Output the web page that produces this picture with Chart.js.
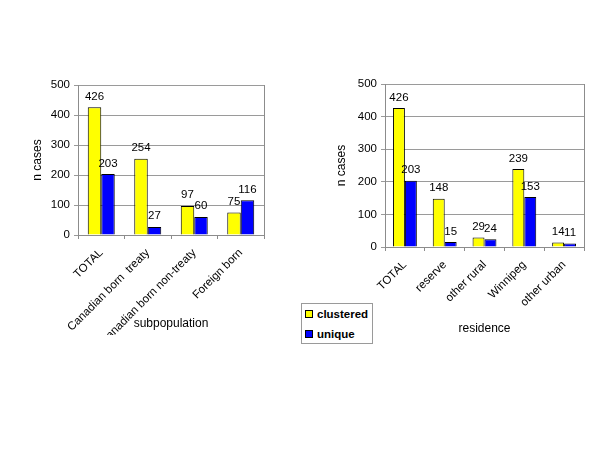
<!DOCTYPE html>
<html>
<head>
<meta charset="utf-8">
<script src="https://cdn.jsdelivr.net/npm/chart.js@4/dist/chart.umd.min.js"></script>
<style>
  body { margin: 0; width: 600px; height: 450px; background: #fff; position: relative; overflow: hidden;
         font-family: "Liberation Sans", Arial, sans-serif; }
  canvas { position: absolute; top: 0; }
  #left { left: 0; }
  #right { left: 290px; }
  .legend { position: absolute; left: 301px; top: 303px; width: 70px; height: 39px;
            border: 1px solid #9a9a9a; background: #fff; font-size: 11.5px; font-weight: bold; }
  .legend .item { position: absolute; left: 3px; height: 14px; line-height: 14px; white-space: nowrap; }
  .legend .sw { display: inline-block; width: 6px; height: 6px; border: 1px solid #000;
                margin-right: 4px; vertical-align: 0px; }
</style>
</head>
<body>
<canvas id="left" width="290" height="450"></canvas>
<canvas id="right" width="310" height="450"></canvas>
<div class="legend">
  <div class="item" style="top:3px"><span class="sw" style="background:#ffff00"></span>clustered</div>
  <div class="item" style="top:23px"><span class="sw" style="background:#0000ff"></span>unique</div>
</div>
<script>
const subpopLabels = ['TOTAL', 'Canadian born  treaty', 'Canadian born non-treaty', 'Foreign born']
const subpopClustered = [426, 254, 97, 75]
const subpopUnique = [203, 27, 60, 116]

const residenceLabels = ['TOTAL', 'reserve', 'other rural', 'Winnipeg', 'other urban']
const residenceClustered = [426, 148, 29, 239, 14]
const residenceUnique = [203, 15, 24, 153, 11]

const seriesNames = ['clustered', 'unique']
const yMax = 500
const yStep = 100

Chart.defaults.font.family = '"Liberation Sans", Arial, sans-serif'
Chart.defaults.font.size = 11.5
Chart.defaults.color = '#000'

// numbers above the bars
const valueLabels = {
    id: 'valueLabels',
    afterDatasetsDraw(chart) {
        const ctx = chart.ctx
        ctx.save()
        ctx.font = '11.5px "Liberation Sans", Arial, sans-serif'
        ctx.fillStyle = '#000'
        ctx.textAlign = 'center'
        ctx.textBaseline = 'bottom'
        chart.data.datasets.forEach((ds, i) => {
            chart.getDatasetMeta(i).data.forEach((bar, j) => {
                ctx.fillText(ds.data[j], bar.x, bar.y - 5)
            })
        })
        ctx.restore()
    }
}

// grey frame line on the right of the plot
const rightBorder = {
    id: 'rightBorder',
    beforeDatasetsDraw(chart) {
        const a = chart.chartArea
        const ctx = chart.ctx
        ctx.save()
        ctx.strokeStyle = '#8c8c8c'
        ctx.lineWidth = 1
        ctx.beginPath()
        ctx.moveTo(Math.round(a.right) + 0.5, a.top)
        ctx.lineTo(Math.round(a.right) + 0.5, a.bottom)
        ctx.stroke()
        ctx.restore()
    }
}

function drawChart(id, labels, clustered, unique, xTitle, pad, yWidth, xHeight, catPct) {
    return new Chart(document.getElementById(id), {
        type: 'bar',
        data: {
            labels: labels,
            datasets: [
                { label: seriesNames[0], data: clustered, backgroundColor: '#ffff00',
                  borderColor: '#000', borderWidth: 1, barPercentage: 1, categoryPercentage: catPct },
                { label: seriesNames[1], data: unique, backgroundColor: '#0000ff',
                  borderColor: '#000', borderWidth: 1, barPercentage: 1, categoryPercentage: catPct }
            ]
        },
        options: {
            responsive: false,
            animation: false,
            layout: { padding: pad },
            plugins: {
                legend: { display: false },
                tooltip: { enabled: false }
            },
            scales: {
                x: {
                    afterFit(scale) { scale.height = xHeight },
                    grid: { offset: true, drawOnChartArea: false, drawTicks: true, tickLength: 4, color: '#8c8c8c' },
                    border: { color: '#8c8c8c' },
                    ticks: { autoSkip: false, minRotation: 45, maxRotation: 45, padding: 7 },
                    title: { display: true, text: xTitle, font: { size: 12 }, padding: { top: 4, bottom: 4 } }
                },
                y: {
                    min: 0,
                    max: yMax,
                    afterFit(scale) { scale.width = yWidth },
                    ticks: { stepSize: yStep, padding: 4 },
                    grid: { color: '#9a9a9a', tickLength: 4, drawTicks: true },
                    border: { color: '#8c8c8c' },
                    title: { display: true, text: 'n cases', font: { size: 12 }, padding: { top: 4, bottom: 4 } }
                }
            }
        },
        plugins: [valueLabels, rightBorder]
    })
}

drawChart('left', subpopLabels, subpopClustered, subpopUnique, 'subpopulation',
    { left: 26, top: 85, right: 26, bottom: 115 }, 52, 100, 0.58)
drawChart('right', residenceLabels, residenceClustered, residenceUnique, 'residence',
    { left: 40, top: 84, right: 16, bottom: 110 }, 55, 93, 0.6)
</script>
</body>
</html>
